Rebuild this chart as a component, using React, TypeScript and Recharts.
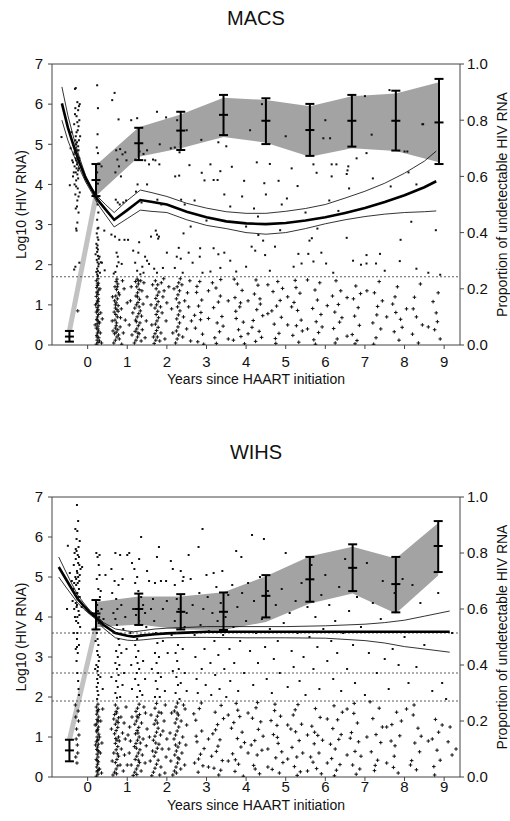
import React from 'react';
import { ComposedChart, XAxis, YAxis, Scatter, Line, Area, ErrorBar, ReferenceLine } from 'recharts';

type Pt = [number, number];

const xTicks = [0, 1, 2, 3, 4, 5, 6, 7, 8, 9];
const leftTicks = [0, 1, 2, 3, 4, 5, 6, 7];
const rightTicks = [0, 0.2, 0.4, 0.6, 0.8, 1.0];

// ---------- MACS ----------
const macsVisits = [-0.46, 0.21, 1.29, 2.35, 3.43, 4.5, 5.61, 6.67, 7.78, 8.87];
const macsPropMean = [0.03, 0.587, 0.718, 0.763, 0.819, 0.798, 0.765, 0.798, 0.798, 0.792];
const macsPropLow = [0.012, 0.53, 0.658, 0.694, 0.747, 0.715, 0.673, 0.706, 0.692, 0.644];
const macsPropHigh = [0.05, 0.644, 0.773, 0.83, 0.89, 0.878, 0.858, 0.89, 0.905, 0.947];
const macsBandLow = [0.53, 0.67, 0.7, 0.74, 0.72, 0.67, 0.7, 0.69, 0.65];
const macsBandHigh = [0.64, 0.775, 0.82, 0.88, 0.872, 0.85, 0.885, 0.895, 0.935];

const macsFitX = [-0.65, -0.5, -0.35, -0.2, -0.05, 0.1, 0.25, 0.45, 0.67, 1.0, 1.33, 1.6, 2.0, 2.5, 3.0, 3.5, 4.0, 4.5, 5.0, 5.5, 6.0, 6.5, 7.0, 7.5, 8.0, 8.5, 8.8];
const macsFit = [6.02, 5.42, 4.95, 4.52, 4.15, 3.88, 3.62, 3.38, 3.12, 3.36, 3.61, 3.57, 3.5, 3.32, 3.18, 3.08, 3.03, 3.01, 3.04, 3.1, 3.18, 3.29, 3.41, 3.56, 3.73, 3.93, 4.08];
const macsFitUpper = [6.43, 5.72, 5.15, 4.65, 4.22, 3.93, 3.7, 3.5, 3.3, 3.6, 3.86, 3.8, 3.7, 3.53, 3.41, 3.32, 3.28, 3.28, 3.33, 3.4, 3.5, 3.66, 3.83, 4.03, 4.28, 4.58, 4.83];
const macsFitLower = [5.6, 5.1, 4.72, 4.38, 4.06, 3.8, 3.52, 3.24, 2.94, 3.15, 3.36, 3.33, 3.3, 3.12, 2.98, 2.9, 2.8, 2.76, 2.8, 2.9, 3.02, 3.12, 3.2, 3.26, 3.3, 3.32, 3.34];
const macsLimits = [1.7];

const macsDetected: Pt[] = [
  [-0.66,5.18],[-0.45,3.98],[-0.43,4.9],[-0.41,5.3],[-0.39,4.6],[-0.37,4.2],[-0.36,5.0],[-0.35,4.75],[-0.34,5.5],[-0.33,4.45],
  [-0.32,6.38],[-0.31,5.9],[-0.31,4.9],[-0.3,4.3],[-0.3,5.2],[-0.29,4.6],[-0.29,3.95],[-0.28,5.7],[-0.28,4.4],[-0.27,5.05],
  [-0.27,4.75],[-0.26,6.05],[-0.26,3.6],[-0.25,4.55],[-0.25,5.35],[-0.24,4.15],[-0.24,5.85],[-0.23,4.85],[-0.23,3.3],[-0.22,5.95],
  [-0.21,4.65],[-0.21,5.6],[-0.2,3.8],[-0.19,5.2],[-0.33,4.0],[-0.31,3.75],[-0.29,2.9],[-0.28,2.85],[-0.27,3.45],[-0.26,3.05],
  [-0.25,3.9],[-0.22,4.4],[-0.32,5.75],[-0.3,6.4],[-0.35,4.3],[-0.37,4.55],[-0.24,4.95],[-0.28,5.3],[-0.31,5.1],[-0.26,4.25],
  [-0.23,5.45],[-0.2,6.0],[-0.34,1.88],[-0.31,1.95],[-0.3,4.65],[-0.27,4.5],[-0.29,5.0],[-0.25,4.7],[-0.33,4.8],[-0.22,5.1],
  [-0.26,5.55],[-0.24,4.35],[-0.29,4.1],[-0.28,4.85],[-0.3,3.4],[-0.23,3.7],[-0.21,2.05],
  [0.24,6.47],[0.26,5.9],[0.25,5.25],[0.23,4.92],[0.26,4.78],[0.27,4.52],[0.24,4.3],[0.26,4.02],[0.22,3.72],[0.25,3.5],
  [0.27,3.3],[0.24,3.12],[0.25,2.9],[0.23,2.78],[0.27,2.62],[0.25,2.48],[0.24,2.32],[0.26,2.22],[0.23,2.12],[0.25,2.06],
  [0.27,1.96],[0.24,1.9],[0.26,1.84],[0.28,2.02],[0.22,2.52],[0.3,2.2],[0.31,1.8],[0.2,2.26],[0.33,2.06],[0.25,2.68],
  [0.26,2.38],[0.24,1.76],[0.22,1.82],[0.43,1.86],[0.36,2.05],[0.42,2.85],[0.28,2.15],[0.26,1.72],[0.23,2.42],[0.27,2.92],
  [0.35,4.45],[0.27,3.6],
  [0.62,6.1],[0.68,6.28],[0.78,5.62],[0.72,4.85],[0.75,4.62],[0.82,4.88],[0.79,4.45],[0.7,4.3],[0.84,4.2],[0.88,4.75],
  [0.71,3.62],[0.76,3.55],[0.81,3.5],[0.69,2.7],[0.73,2.3],[0.76,2.2],[0.78,2.06],[0.74,1.96],[0.7,1.82],[0.8,2.62],
  [0.86,2.02],[0.66,1.78],[0.95,4.8],[0.98,4.6],[0.9,3.55],[0.93,2.62],[0.6,2.75],
  [1.25,5.65],[1.31,4.82],[1.21,4.62],[1.41,4.76],[1.26,4.0],[1.36,3.55],[1.22,3.82],[1.3,2.56],[1.28,2.3],[1.2,2.05],
  [1.38,1.95],[1.25,1.85],[1.33,1.76],[1.15,2.35],[1.02,2.62],[0.97,3.6],[1.45,2.2],[1.41,1.8],[1.1,5.6],[1.5,4.85],
  [1.45,4.6],[1.55,4.5],[1.5,2.1],[1.5,4.0],
  [1.75,2.75],[1.78,2.65],[1.72,2.85],[1.71,4.6],[1.65,4.62],[1.81,4.5],[1.86,3.5],[1.76,3.62],[1.6,2.7],[1.9,1.92],
  [1.75,1.8],[1.55,2.02],[1.75,5.81],[1.98,5.67],[1.82,5.0],[1.8,2.7],[1.68,1.9],[2.0,2.3],
  [2.26,5.6],[2.1,4.9],[2.2,4.92],[2.31,4.22],[2.21,4.2],[2.36,3.62],[2.3,2.42],[2.25,2.2],[2.35,2.15],[2.4,1.8],
  [2.2,1.92],[2.35,5.02],[2.42,2.78],[2.45,3.5],[2.32,4.8],
  [2.57,4.48],[2.87,5.11],[2.88,4.29],[3.18,4.11],[3.28,4.11],[3.35,4.33],[3.64,4.44],[4.27,4.55],[4.6,4.51],[3.95,4.09],
  [4.46,4.03],[4.82,4.09],[5.03,3.65],[5.3,3.96],[5.15,4.4],[5.7,4.5],[5.78,4.29],[6.16,4.5],[6.28,4.5],[6.16,4.2],
  [6.54,4.26],[6.56,4.35],[6.58,4.45],[6.79,4.65],[7.04,4.78],[7.17,5.24],[6.12,5.15],[8.45,5.5],[8.79,2.86],[8.17,3.07],
  [7.9,2.62],[6.54,2.67],[6.33,3.34],[5.66,2.66],[4.86,2.86],[4.31,2.74],[4.14,2.45],[4.23,2.35],[4.43,2.6],[4.48,2.24],
  [4.73,2.45],[2.84,2.41],[2.83,2.2],[3.18,2.41],[3.3,2.26],[3.35,1.92],[5.32,2.27],[5.57,2.27],[5.4,2.03],[5.7,2.08],
  [6.02,2.03],[7.04,2.24],[7.28,2.03],[7.04,2.03],[7.38,2.27],[7.88,2.09],[3.75,1.83],[3.1,1.83],[7.62,6.35],[8.47,5.5],
  [5.95,5.15],[8.0,4.82],[8.07,4.82],[3.3,5.05],[2.7,3.6],[3.0,3.1],[3.6,3.45],[4.0,2.95],[4.2,3.4],[4.5,3.75],
  [3.9,3.7],[3.45,3.75],[2.6,2.95],[3.1,4.5],[2.95,4.1],[4.3,3.2],[5.5,3.3],[4.9,3.5],[5.2,1.95],[5.9,2.3],
  [6.2,1.8],[6.7,2.1],[6.9,2.0],[7.5,1.85],[8.3,1.9],[8.6,1.8],[4.6,1.85],[4.0,1.95],[2.9,1.8],[3.6,2.1],
  [3.45,2.3],[2.55,2.3],[2.65,2.05],[5.6,2.6],[5.8,2.9],[6.1,3.6],[6.6,3.9],[7.2,4.15],[7.65,3.95],[8.1,4.3],
  [8.3,4.0],[3.5,4.95],[4.1,5.35],[2.5,5.35],[4.4,6.0],[7.0,6.2],[6.0,5.6],[5.0,5.2],[8.9,1.75],
];

const macsCensored: Pt[] = [
  [-0.25,0.85],
  [0.22,0.02],[0.26,0.06],[0.24,0.12],[0.28,0.18],[0.23,0.24],[0.25,0.3],[0.27,0.35],[0.22,0.42],[0.26,0.47],[0.24,0.53],
  [0.28,0.58],[0.23,0.64],[0.25,0.7],[0.27,0.76],[0.22,0.82],[0.26,0.88],[0.24,0.93],[0.28,0.98],[0.23,1.04],[0.25,1.1],
  [0.27,1.15],[0.22,1.21],[0.26,1.26],[0.24,1.32],[0.28,1.37],[0.23,1.43],[0.25,1.48],[0.27,1.54],[0.22,1.6],[0.26,1.65],
  [0.24,0.2],[0.26,0.4],[0.24,0.62],[0.25,0.85],[0.26,1.08],[0.24,1.3],[0.25,1.52],[0.3,0.1],[0.32,0.3],[0.3,0.55],
  [0.33,0.8],[0.35,0.05],[0.2,1.0],[0.19,0.5],[0.31,1.4],[0.37,0.65],
  [0.66,0.05],[0.7,0.12],[0.74,0.2],[0.68,0.28],[0.72,0.32],[0.76,0.38],[0.7,0.42],[0.78,0.25],[0.64,0.35],[0.73,0.55],
  [0.69,0.62],[0.75,0.7],[0.71,0.76],[0.67,0.82],[0.74,0.88],[0.7,0.92],[0.77,0.98],[0.72,1.05],[0.68,1.1],[0.75,1.15],
  [0.71,1.22],[0.78,1.3],[0.73,1.38],[0.69,1.45],[0.76,1.52],[0.72,1.58],[0.74,1.64],[0.8,0.15],[0.82,0.45],[0.85,0.9],
  [0.8,1.25],[0.88,1.6],[0.62,0.6],[0.63,1.2],[0.9,0.3],[0.95,0.62],[1.0,1.05],[0.92,1.4],[0.86,0.02],[0.72,0.48],
  [0.77,0.84],[0.7,1.0],[0.75,1.45],[0.83,0.68],
  [1.18,0.05],[1.22,0.12],[1.26,0.2],[1.3,0.28],[1.2,0.34],[1.24,0.4],[1.28,0.48],[1.32,0.55],[1.21,0.62],[1.25,0.7],
  [1.29,0.78],[1.33,0.85],[1.19,0.92],[1.23,1.0],[1.27,1.06],[1.31,1.14],[1.22,1.22],[1.26,1.3],[1.3,1.38],[1.24,1.45],
  [1.28,1.52],[1.21,1.58],[1.25,1.64],[1.35,0.1],[1.38,0.38],[1.36,0.72],[1.4,1.02],[1.37,1.35],[1.34,1.6],[1.12,0.25],
  [1.14,0.8],[1.1,1.45],[1.45,0.18],[1.48,0.6],[1.5,1.2],[1.42,1.55],[1.05,0.5],[1.08,1.1],[1.27,0.3],[1.23,0.58],
  [1.3,0.95],[1.26,1.2],[1.29,1.6],
  [1.68,0.04],[1.72,0.12],[1.76,0.2],[1.7,0.28],[1.74,0.36],[1.78,0.44],[1.71,0.52],[1.75,0.6],[1.79,0.68],[1.73,0.76],
  [1.77,0.84],[1.7,0.92],[1.74,1.0],[1.78,1.08],[1.72,1.16],[1.76,1.24],[1.8,1.32],[1.73,1.4],[1.77,1.5],[1.71,1.6],
  [1.85,0.3],[1.88,0.8],[1.9,1.2],[1.86,1.55],[1.62,0.5],[1.6,1.0],[1.64,1.5],[1.95,0.15],[1.98,0.6],[2.0,1.05],
  [1.93,1.35],[1.82,0.1],[1.84,0.95],[1.66,0.2],[2.05,1.45],[1.92,1.65],
  [2.22,0.05],[2.26,0.15],[2.3,0.25],[2.24,0.35],[2.28,0.45],[2.32,0.55],[2.25,0.65],[2.29,0.75],[2.33,0.85],[2.27,0.95],
  [2.31,1.05],[2.24,1.15],[2.28,1.25],[2.32,1.35],[2.26,1.45],[2.3,1.55],[2.34,1.65],[2.15,0.3],[2.12,0.9],[2.18,1.4],
  [2.4,0.2],[2.42,0.7],[2.45,1.1],[2.38,1.5],[2.5,0.4],[2.55,0.95],[2.52,1.3],[2.6,0.1],[2.62,0.6],[2.58,1.6],
  [2.72,0.42],[2.75,1.31],[2.78,0.08],[2.8,0.97],[2.83,1.58],[2.85,0.63],[2.88,1.12],[2.9,0.27],[2.76,1.46],[2.86,0.81],
  [2.93,0.02],[2.7,0.74],
  [3.18,0.93],[3.21,0.18],[3.24,1.42],[3.27,0.55],[3.3,1.07],[3.33,0.33],[3.36,1.63],[3.39,0.71],[3.25,0.04],[3.35,1.22],
  [3.42,0.47],[3.15,1.55],
  [3.68,0.12],[3.72,1.18],[3.75,0.66],[3.78,1.52],[3.81,0.38],[3.84,0.95],[3.87,0.21],[3.9,1.36],[3.74,0.84],[3.93,0.57],
  [3.7,1.64],[3.86,1.05],[3.96,0.03],
  [4.18,0.61],[4.21,1.27],[4.24,0.09],[4.27,0.88],[4.3,1.49],[4.33,0.34],[4.36,1.02],[4.39,0.19],[4.25,1.62],[4.42,0.73],
  [4.15,0.44],[4.35,1.15],
  [4.68,1.33],[4.71,0.52],[4.74,0.16],[4.77,0.97],[4.8,1.58],[4.83,0.29],[4.86,1.11],[4.89,0.69],[4.75,0.04],[4.92,1.41],
  [4.65,0.85],
  [5.18,0.24],[5.21,1.06],[5.24,1.61],[5.27,0.48],[5.3,0.86],[5.33,0.07],[5.36,1.29],[5.39,0.62],[5.26,1.43],[5.42,0.35],
  [5.15,0.95],
  [5.68,0.91],[5.71,0.13],[5.74,1.37],[5.77,0.58],[5.8,1.12],[5.83,0.31],[5.86,1.55],[5.89,0.76],[5.75,0.02],[5.92,0.45],
  [6.18,1.22],[6.21,0.41],[6.24,0.82],[6.27,1.6],[6.3,0.15],[6.33,1.01],[6.36,0.57],[6.39,1.35],[6.25,0.05],[6.42,0.68],
  [6.68,0.26],[6.71,1.15],[6.74,0.72],[6.77,1.47],[6.8,0.11],[6.83,0.93],[6.86,0.49],[6.89,1.28],[6.75,0.03],
  [7.2,0.55],[7.24,1.3],[7.28,0.18],[7.32,0.96],[7.36,1.58],[7.4,0.4],[7.3,0.75],[7.44,1.1],[7.22,0.02],
  [7.7,1.02],[7.74,0.33],[7.78,0.81],[7.82,1.45],[7.86,0.12],[7.9,0.64],[7.76,1.2],[7.94,0.44],
  [8.2,0.27],[8.25,1.19],[8.3,0.7],[8.35,0.05],[8.4,1.52],[8.45,0.5],[8.22,0.9],
  [8.72,1.08],[8.76,0.38],[8.8,0.8],[8.85,1.3],[8.9,0.15],[8.83,0.58],
  [3.05,0.66],[3.55,1.1],[4.05,0.28],[4.55,0.78],[5.05,1.2],[5.55,0.4],[6.05,0.98],[6.55,0.22],[7.05,1.35],[7.55,0.7],
  [8.05,0.9],[8.6,0.45],[3.55,0.15],[4.55,1.5],[5.55,1.62],[6.55,1.18],[3.05,1.35],[4.05,1.1],[5.05,0.5],
];

// ---------- WIHS ----------
const wihsVisits = [-0.46, 0.21, 1.29, 2.35, 3.43, 4.5, 5.61, 6.69, 7.78, 8.85];
const wihsPropMean = [0.095, 0.584, 0.6, 0.59, 0.59, 0.647, 0.706, 0.747, 0.689, 0.825];
const wihsPropLow = [0.056, 0.527, 0.543, 0.527, 0.525, 0.57, 0.626, 0.664, 0.588, 0.732];
const wihsPropHigh = [0.133, 0.632, 0.655, 0.653, 0.659, 0.721, 0.786, 0.831, 0.786, 0.914];
const wihsBandLow = [0.535, 0.545, 0.527, 0.525, 0.554, 0.62, 0.655, 0.584, 0.72];
const wihsBandHigh = [0.625, 0.645, 0.645, 0.66, 0.717, 0.788, 0.822, 0.78, 0.907];

const wihsFitX = [-0.73, -0.55, -0.4, -0.25, -0.1, 0.05, 0.2, 0.4, 0.7, 1.0, 1.16, 1.4, 1.7, 2.0, 2.5, 3.0, 4.0, 5.0, 6.0, 7.0, 7.5, 8.0, 8.5, 9.14];
const wihsFit = [5.25, 4.95, 4.7, 4.45, 4.28, 4.12, 4.0, 3.8, 3.6, 3.53, 3.51, 3.54, 3.57, 3.59, 3.61, 3.63, 3.63, 3.63, 3.63, 3.63, 3.63, 3.63, 3.63, 3.63];
const wihsFitUpper = [5.5, 5.13, 4.83, 4.55, 4.35, 4.17, 4.05, 3.86, 3.7, 3.65, 3.63, 3.66, 3.7, 3.72, 3.74, 3.76, 3.76, 3.76, 3.78, 3.82, 3.86, 3.92, 4.02, 4.15];
const wihsFitLower = [5.0, 4.75, 4.55, 4.35, 4.2, 4.07, 3.95, 3.72, 3.48, 3.42, 3.41, 3.43, 3.46, 3.48, 3.49, 3.49, 3.48, 3.48, 3.47, 3.41, 3.35, 3.26, 3.2, 3.12];
const wihsLimits = [3.6, 2.6, 1.9];

const wihsDetected: Pt[] = [
  [-0.5,5.78],[-0.45,5.1],[-0.4,4.9],[-0.38,4.4],[-0.36,4.7],[-0.35,5.3],[-0.34,4.2],[-0.33,5.6],[-0.32,4.55],[-0.31,6.2],
  [-0.31,5.0],[-0.3,4.35],[-0.3,5.45],[-0.29,4.8],[-0.29,3.9],[-0.28,5.65],[-0.28,4.25],[-0.27,6.8],[-0.27,5.15],[-0.26,4.6],
  [-0.26,3.6],[-0.25,5.55],[-0.25,4.45],[-0.24,6.4],[-0.24,5.0],[-0.23,4.15],[-0.23,5.75],[-0.22,4.7],[-0.22,3.3],[-0.21,5.3],
  [-0.21,4.05],[-0.2,5.9],[-0.2,4.5],[-0.19,3.75],[-0.18,5.2],[-0.3,3.2],[-0.28,2.9],[-0.27,3.45],[-0.26,2.6],[-0.25,3.1],
  [-0.24,2.4],[-0.23,2.2],[-0.22,2.05],[-0.29,4.95],[-0.27,4.3],[-0.25,4.85],[-0.23,4.5],[-0.24,5.35],[-0.26,5.1],[-0.28,4.6],
  [-0.3,5.7],[-0.21,4.9],[-0.32,4.0],[-0.35,3.6],[-0.26,4.0],[-0.24,3.85],[-0.22,5.5],[-0.2,5.05],[-0.28,5.95],[-0.26,6.15],
  [-0.34,4.85],[-0.52,4.2],[-0.15,4.25],[-0.14,5.25],[-0.27,3.25],
  [0.22,5.6],[0.25,5.5],[0.28,5.3],[0.3,5.05],[0.23,4.95],[0.27,4.7],[0.31,4.5],[0.24,4.3],[0.26,4.15],[0.28,3.85],
  [0.23,3.6],[0.25,3.45],[0.27,3.3],[0.24,3.15],[0.26,3.05],[0.28,2.9],[0.22,2.8],[0.25,2.65],[0.27,2.55],[0.24,2.45],
  [0.26,2.35],[0.23,2.25],[0.25,2.15],[0.27,2.05],[0.24,1.95],[0.3,3.0],[0.32,2.5],[0.2,3.4],[0.35,4.2],[0.33,4.65],
  [0.4,3.95],[0.38,2.2],[0.19,2.7],[0.29,4.0],[0.26,2.75],[0.3,5.55],[0.45,5.05],
  [0.6,5.2],[0.62,4.6],[0.68,4.9],[0.7,5.6],[0.72,4.45],[0.75,4.2],[0.78,4.8],[0.82,5.55],[0.85,4.3],[0.88,4.95],
  [0.7,3.95],[0.74,3.8],[0.78,3.45],[0.8,3.3],[0.72,3.15],[0.76,3.0],[0.7,2.85],[0.74,2.7],[0.78,2.55],[0.72,2.4],
  [0.76,2.25],[0.7,2.1],[0.74,1.98],[0.8,2.8],[0.68,3.6],[0.85,3.1],[0.88,2.3],[0.9,3.7],[0.95,4.0],[0.65,4.1],
  [0.98,3.2],[0.92,2.6],[0.6,2.5],[0.82,2.0],
  [1.0,5.55],[1.05,5.6],[1.12,5.35],[1.18,5.2],[1.25,5.0],[1.3,5.45],[1.2,4.85],[1.28,4.65],[1.35,4.5],[1.4,4.3],
  [1.15,4.2],[1.22,4.05],[1.3,3.9],[1.25,3.45],[1.2,3.3],[1.28,3.15],[1.22,3.0],[1.26,2.85],[1.3,2.7],[1.24,2.6],
  [1.2,2.45],[1.28,2.3],[1.32,2.15],[1.25,2.0],[1.35,3.55],[1.4,2.9],[1.45,2.45],[1.1,2.8],[1.08,3.6],[1.48,3.75],
  [1.5,5.15],[1.55,4.9],[1.35,6.0],[1.45,4.1],[1.12,2.2],[1.38,2.05],
  [1.6,4.2],[1.65,4.45],[1.7,4.85],[1.75,5.5],[1.8,5.75],[1.85,4.9],[1.68,3.9],[1.72,3.6],[1.76,3.35],[1.7,3.1],
  [1.74,2.85],[1.78,2.6],[1.72,2.4],[1.76,2.2],[1.7,2.0],[1.8,3.0],[1.85,2.5],[1.9,3.4],[1.95,2.15],[1.9,4.2],
  [2.0,4.4],[1.62,2.7],[1.82,2.0],[2.02,3.1],[1.98,4.9],
  [2.1,5.4],[2.15,5.2],[2.2,4.8],[2.25,4.45],[2.3,4.2],[2.35,5.15],[2.4,4.9],[2.2,3.9],[2.25,3.6],[2.28,3.3],
  [2.22,3.1],[2.26,2.9],[2.3,2.7],[2.24,2.5],[2.28,2.3],[2.22,2.1],[2.32,1.95],[2.4,3.2],[2.45,2.6],[2.5,2.15],
  [2.15,2.65],[2.12,3.55],[2.5,4.1],[2.45,3.75],[2.42,5.0],[2.35,2.35],
  [2.55,5.55],[2.6,4.95],[2.65,4.3],[2.7,3.55],[2.72,3.0],[2.75,2.45],[2.78,2.1],[2.8,5.75],[2.82,4.6],[2.85,3.8],
  [2.88,2.7],[2.9,6.2],[2.92,4.2],[2.95,3.2],[2.98,2.3],[3.0,5.05],[3.03,4.5],[3.06,3.65],[3.1,2.85],[3.12,2.05],
  [3.15,4.1],[3.18,5.1],[3.2,3.4],[3.22,2.55],[3.25,4.75],[3.28,3.9],[3.3,3.05],[3.33,2.2],[3.36,4.35],[3.4,5.15],
  [3.42,3.55],[3.45,2.7],[3.48,4.0],[3.5,2.0],[3.55,4.55],[3.58,3.2],[3.6,2.4],[3.65,4.8],[3.68,3.75],[3.7,2.85],
  [3.75,5.65],[3.78,4.25],[3.8,2.15],[3.85,3.4],[3.88,5.5],[3.9,4.6],[3.95,2.6],[4.0,3.9],[4.05,4.85],[4.1,3.15],
  [4.15,6.05],[4.18,2.3],[4.2,4.4],[4.25,3.6],[4.3,2.85],[4.35,5.0],[4.4,3.95],[4.45,5.95],[4.48,3.25],[4.52,2.45],
  [4.55,4.65],[4.6,3.7],[4.65,2.1],[4.7,2.95],[4.75,4.3],[4.8,3.4],[4.85,2.6],[4.9,4.7],[4.95,3.85],[5.0,5.6],
  [5.05,2.25],[5.1,4.1],[5.15,3.15],[5.2,2.75],[5.25,4.4],[5.3,3.6],[5.35,2.4],[5.4,4.85],[5.45,3.0],[5.5,2.05],
  [5.55,4.25],[5.6,3.5],[5.65,5.3],[5.7,2.7],[5.75,4.0],[5.8,3.25],[5.85,2.2],[5.9,4.55],[5.95,3.7],[6.0,5.05],
  [6.05,2.9],[6.1,4.3],[6.15,3.4],[6.2,2.45],[6.25,3.9],[6.3,3.1],[6.35,4.75],[6.4,2.15],[6.45,3.6],[6.5,5.45],
  [6.55,2.7],[6.6,4.15],[6.7,3.3],[6.75,2.35],[6.8,4.5],[6.9,3.75],[7.0,2.05],[7.05,5.35],[7.1,3.1],[7.2,4.35],
  [7.3,2.6],[7.4,3.95],[7.45,4.9],[7.5,2.95],[7.6,2.2],[7.7,3.2],[7.75,4.6],[7.85,2.8],[7.95,4.95],[8.0,3.5],
  [8.1,2.35],[8.2,4.8],[8.3,2.75],[8.4,4.35],[8.5,3.3],[8.7,2.15],[8.85,4.6],[8.95,2.35],[9.05,1.95],[9.2,3.6],
];

const wihsCensored: Pt[] = [
  [-0.3,1.5],[-0.28,1.2],[-0.26,0.8],[-0.3,0.5],[-0.27,0.35],[-0.24,1.65],[-0.22,1.05],[-0.31,1.8],[-0.25,0.6],[-0.29,0.95],
  [-0.23,1.4],
  [0.22,0.02],[0.26,0.07],[0.24,0.13],[0.28,0.19],[0.23,0.25],[0.25,0.32],[0.27,0.38],[0.22,0.44],[0.26,0.5],[0.24,0.57],
  [0.28,0.63],[0.23,0.69],[0.25,0.75],[0.27,0.82],[0.22,0.88],[0.26,0.94],[0.24,1.0],[0.28,1.07],[0.23,1.13],[0.25,1.19],
  [0.27,1.25],[0.22,1.32],[0.26,1.38],[0.24,1.44],[0.28,1.5],[0.23,1.57],[0.25,1.63],[0.27,1.69],[0.22,1.75],[0.26,1.82],
  [0.25,0.16],[0.24,0.41],[0.26,0.66],[0.25,0.91],[0.24,1.16],[0.26,1.41],[0.25,1.66],[0.3,0.2],[0.32,0.6],[0.3,1.0],
  [0.33,1.4],[0.35,0.1],[0.2,0.8],[0.19,1.3],[0.36,0.85],[0.38,1.7],
  [0.64,0.05],[0.68,0.12],[0.72,0.2],[0.76,0.28],[0.7,0.36],[0.74,0.44],[0.78,0.52],[0.66,0.6],[0.72,0.68],[0.76,0.76],
  [0.7,0.84],[0.74,0.92],[0.78,1.0],[0.68,1.08],[0.72,1.16],[0.76,1.24],[0.7,1.32],[0.74,1.4],[0.78,1.48],[0.68,1.56],
  [0.72,1.64],[0.76,1.72],[0.7,1.8],[0.82,0.3],[0.85,0.7],[0.88,1.1],[0.84,1.5],[0.62,0.4],[0.6,1.2],[0.9,0.15],
  [0.93,0.55],[0.95,0.95],[0.92,1.35],[0.97,1.75],[0.73,0.08],[0.75,0.58],[0.71,0.96],[0.77,1.36],[0.73,1.6],[0.8,0.9],
  [0.66,1.45],[1.0,0.3],[1.02,1.05],
  [1.15,0.04],[1.19,0.12],[1.23,0.2],[1.27,0.28],[1.31,0.36],[1.2,0.44],[1.24,0.52],[1.28,0.6],[1.32,0.68],[1.18,0.76],
  [1.22,0.84],[1.26,0.92],[1.3,1.0],[1.21,1.08],[1.25,1.16],[1.29,1.24],[1.19,1.32],[1.23,1.4],[1.27,1.48],[1.31,1.56],
  [1.22,1.64],[1.26,1.72],[1.3,1.82],[1.35,0.15],[1.38,0.55],[1.4,0.95],[1.36,1.35],[1.42,1.75],[1.1,0.3],[1.08,0.9],
  [1.12,1.5],[1.45,0.35],[1.48,0.78],[1.5,1.2],[1.46,1.6],[1.05,0.6],[1.06,1.25],[1.24,0.06],[1.28,0.42],[1.23,0.72],
  [1.27,1.1],[1.25,1.52],[1.33,0.85],
  [1.62,0.03],[1.66,0.12],[1.7,0.22],[1.74,0.32],[1.78,0.42],[1.68,0.52],[1.72,0.62],[1.76,0.72],[1.8,0.82],[1.66,0.92],
  [1.7,1.02],[1.74,1.12],[1.78,1.22],[1.68,1.32],[1.72,1.42],[1.76,1.52],[1.8,1.62],[1.7,1.72],[1.74,1.84],[1.85,0.25],
  [1.88,0.7],[1.9,1.15],[1.86,1.6],[1.58,0.4],[1.56,1.0],[1.6,1.55],[1.95,0.1],[1.98,0.5],[2.0,0.95],[1.93,1.4],
  [1.96,1.8],[1.82,0.05],[1.84,1.05],[1.64,0.65],[1.72,0.85],[1.76,1.35],
  [2.15,0.05],[2.19,0.15],[2.23,0.25],[2.27,0.35],[2.31,0.45],[2.2,0.55],[2.24,0.65],[2.28,0.75],[2.32,0.85],[2.18,0.95],
  [2.22,1.05],[2.26,1.15],[2.3,1.25],[2.21,1.35],[2.25,1.45],[2.29,1.55],[2.19,1.65],[2.23,1.75],[2.27,1.85],[2.35,0.2],
  [2.38,0.6],[2.4,1.0],[2.36,1.4],[2.42,1.8],[2.1,0.4],[2.08,1.1],[2.12,1.6],[2.45,0.3],[2.48,0.8],[2.5,1.3],
  [2.46,1.7],[2.05,0.7],[2.24,0.1],[2.28,0.48],[2.22,0.8],[2.26,1.6],
  [2.7,0.35],[2.73,1.42],[2.76,0.88],[2.79,0.12],[2.82,1.71],[2.85,0.57],[2.88,1.15],[2.91,0.28],[2.74,1.02],[2.87,1.85],
  [2.94,0.71],[2.68,1.58],[2.8,0.45],
  [3.16,1.08],[3.19,0.22],[3.22,1.62],[3.25,0.64],[3.28,1.31],[3.31,0.05],[3.34,0.93],[3.37,1.79],[3.4,0.41],[3.23,1.18],
  [3.36,0.17],[3.43,1.46],[3.29,0.77],[3.13,0.52],
  [3.66,0.58],[3.69,1.36],[3.72,0.14],[3.75,1.84],[3.78,0.96],[3.81,0.32],[3.84,1.51],[3.87,0.75],[3.9,1.12],[3.73,0.43],
  [3.93,0.02],[3.79,1.67],[3.96,0.86],[3.63,1.22],
  [4.16,1.47],[4.19,0.29],[4.22,0.91],[4.25,1.73],[4.28,0.55],[4.31,1.19],[4.34,0.08],[4.37,1.38],[4.4,0.67],[4.23,0.2],
  [4.43,1.02],[4.29,1.86],[4.13,0.8],
  [4.66,0.19],[4.69,1.06],[4.72,1.66],[4.75,0.48],[4.78,1.29],[4.81,0.84],[4.84,0.1],[4.87,1.52],[4.9,0.63],[4.73,1.82],
  [4.93,0.36],[4.79,0.99],[4.63,1.41],
  [5.16,0.74],[5.19,1.55],[5.22,0.26],[5.25,1.13],[5.28,0.5],[5.31,1.81],[5.34,0.91],[5.37,0.13],[5.4,1.32],[5.24,1.68],
  [5.43,0.6],[5.29,0.04],[5.13,1.2],
  [5.66,1.27],[5.69,0.37],[5.72,0.83],[5.75,1.71],[5.78,0.21],[5.81,1.04],[5.84,0.6],[5.87,1.49],[5.9,0.08],[5.73,1.12],
  [5.93,0.92],[5.63,0.5],
  [6.16,0.46],[6.19,1.21],[6.22,1.78],[6.25,0.7],[6.28,0.17],[6.31,1.43],[6.34,0.94],[6.37,0.31],[6.4,1.06],[6.23,0.03],
  [6.43,1.62],[6.13,0.82],
  [6.66,1.11],[6.69,0.3],[6.72,1.59],[6.75,0.64],[6.78,0.07],[6.81,1.35],[6.84,0.88],[6.87,0.2],[6.73,1.84],[6.9,0.52],
  [6.63,0.97],
  [7.16,0.63],[7.2,1.46],[7.24,0.16],[7.28,1.06],[7.32,0.42],[7.36,1.72],[7.4,0.86],[7.26,0.29],[7.44,1.25],[7.13,1.88],
  [7.68,1.31],[7.72,0.24],[7.76,0.78],[7.8,1.62],[7.84,0.1],[7.88,1.03],[7.74,0.52],[7.92,1.4],[7.66,0.9],
  [8.18,0.41],[8.22,1.55],[8.26,0.85],[8.3,0.18],[8.34,1.22],[8.38,0.63],[8.24,1.8],[8.42,1.02],[8.15,0.3],
  [8.7,0.95],[8.74,0.26],[8.78,1.44],[8.82,0.67],[8.86,1.12],[8.9,0.42],[8.76,0.05],[8.95,1.3],
  [9.1,0.88],[9.2,0.55],[9.15,1.25],[9.3,0.7],
  [3.05,0.95],[3.55,0.4],[4.05,1.6],[4.55,0.7],[5.05,1.3],[5.55,0.15],[6.05,1.45],[6.55,0.55],[7.05,1.0],[7.55,0.35],
  [8.05,1.7],[8.6,0.9],[3.55,1.55],[4.55,0.25],[5.55,1.05],[6.55,1.7],[7.55,1.25],[3.05,0.25],[4.05,0.6],[5.05,0.45],
  [6.05,0.35],
];

const FONT = '"Liberation Sans", Arial, sans-serif';
const AXIS = '#444';

const toXY = (pts: Pt[]) => pts.map(([x, y]) => ({ x, y }));
const fitData = (xs: number[], ys: number[]) => xs.map((x, i) => ({ x, y: ys[i] }));

const Dot = (p: any) => <rect x={p.cx - 1} y={p.cy - 1} width={2} height={2} fill="#111" />;
const Cross = (p: any) => (
  <path d={`M${p.cx - 1.8},${p.cy}h3.6M${p.cx},${p.cy - 1.8}v3.6`} stroke="#111" strokeWidth={1} />
);
const MeanTick = (p: any) => (
  <line x1={p.cx - 4.5} x2={p.cx + 4.5} y1={p.cy} y2={p.cy} stroke="#000" strokeWidth={2} />
);

interface PanelProps {
  title: string;
  height: number;
  marginTop: number;
  marginBottom: number;
  tickGap: number;
  titleY: number;
  xLabelY: number;
  visits: number[];
  mean: number[];
  low: number[];
  high: number[];
  bandLow: number[];
  bandHigh: number[];
  fitX: number[];
  fit: number[];
  fitUpper: number[];
  fitLower: number[];
  limits: number[];
  detected: Pt[];
  censored: Pt[];
}

const tickStyle = { fill: '#111', fontSize: 15, fontFamily: FONT };

const Panel: React.FC<PanelProps> = (p) => {
  const band = p.visits.slice(1).map((x, i) => ({ x, band: [p.bandLow[i], p.bandHigh[i]] }));
  const bars = p.visits.map((x, i) => ({ x, y: p.mean[i], err: [p.mean[i] - p.low[i], p.high[i] - p.mean[i]] }));
  // light grey link from the pre-HAART bar to the start of the band
  const bridge = [
    { x: p.visits[0], y: p.high[0] },
    { x: p.visits[1], y: p.bandLow[0] },
  ];
  const plotTop = p.marginTop;
  const plotBottom = p.height - p.marginBottom - 30;
  const midY = (plotTop + plotBottom) / 2;

  return (
    <div style={{ position: 'relative', width: 510, height: p.height }}>
      <ComposedChart
        width={510}
        height={p.height}
        margin={{ top: p.marginTop, right: 8, left: 12, bottom: p.marginBottom }}
      >
        <XAxis
          dataKey="x"
          type="number"
          domain={[-0.9, 9.4]}
          ticks={xTicks}
          allowDataOverflow
          height={30}
          tickSize={4}
          tickMargin={p.tickGap}
          stroke={AXIS}
          tick={tickStyle}
        />
        <YAxis
          yAxisId="left"
          dataKey="y"
          type="number"
          domain={[0, 7]}
          ticks={leftTicks}
          allowDataOverflow
          width={40}
          tickSize={4}
          tickMargin={5}
          stroke={AXIS}
          tick={tickStyle}
        />
        <YAxis
          yAxisId="right"
          orientation="right"
          dataKey="y"
          type="number"
          domain={[0, 1]}
          ticks={rightTicks}
          allowDataOverflow
          width={42}
          tickSize={4}
          tickMargin={3}
          stroke={AXIS}
          tickFormatter={(v: number) => v.toFixed(1)}
          tick={tickStyle}
        />
        <ReferenceLine yAxisId="left" y={7} stroke={AXIS} strokeWidth={1} />
        <Area
          yAxisId="right"
          data={band}
          dataKey="band"
          type="linear"
          fill="#a3a3a3"
          fillOpacity={1}
          stroke="none"
          isAnimationActive={false}
        />
        <Line
          yAxisId="right"
          data={bridge}
          dataKey="y"
          type="linear"
          stroke="#c2c2c2"
          strokeWidth={5}
          dot={false}
          isAnimationActive={false}
        />
        {p.limits.map((v) => (
          <ReferenceLine key={v} yAxisId="left" y={v} stroke="#333" strokeDasharray="2 2" strokeWidth={0.8} />
        ))}
        <Scatter yAxisId="left" data={toXY(p.censored)} dataKey="y" shape={Cross} isAnimationActive={false} />
        <Scatter yAxisId="left" data={toXY(p.detected)} dataKey="y" shape={Dot} isAnimationActive={false} />
        <Line yAxisId="left" data={fitData(p.fitX, p.fitUpper)} dataKey="y" type="linear" stroke="#000" strokeWidth={0.8} dot={false} isAnimationActive={false} />
        <Line yAxisId="left" data={fitData(p.fitX, p.fitLower)} dataKey="y" type="linear" stroke="#000" strokeWidth={0.8} dot={false} isAnimationActive={false} />
        <Line yAxisId="left" data={fitData(p.fitX, p.fit)} dataKey="y" type="linear" stroke="#000" strokeWidth={2.6} dot={false} isAnimationActive={false} />
        <Scatter yAxisId="right" data={bars} dataKey="y" shape={MeanTick} isAnimationActive={false}>
          <ErrorBar dataKey="err" direction="y" width={4.5} strokeWidth={2} stroke="#000" isAnimationActive={false} />
        </Scatter>
      </ComposedChart>
      <svg
        width={510}
        height={p.height}
        style={{ position: 'absolute', left: 0, top: 0, pointerEvents: 'none' }}
        fontFamily={FONT}
      >
        <text x={256} y={p.titleY} textAnchor="middle" fontSize={20} fill="#111">{p.title}</text>
        <text x={256} y={p.xLabelY} textAnchor="middle" fontSize={14} fill="#111">Years since HAART initiation</text>
        <text x={21} y={midY} transform={`rotate(-90 21 ${midY})`} textAnchor="middle" dominantBaseline="central" fontSize={14} fill="#111">
          Log10 (HIV RNA)
        </text>
        <text x={502} y={midY} transform={`rotate(-90 502 ${midY})`} textAnchor="middle" dominantBaseline="central" fontSize={14} fill="#111">
          Proportion of undetectable HIV RNA
        </text>
      </svg>
    </div>
  );
};

export default function App() {
  return (
    <div style={{ position: 'absolute', left: 0, top: 0, width: 510, height: 821, background: '#fff' }}>
      <Panel
        title="MACS"
        height={400}
        marginTop={64}
        marginBottom={25}
        tickGap={7}
        titleY={25}
        xLabelY={384}
        visits={macsVisits}
        mean={macsPropMean}
        low={macsPropLow}
        high={macsPropHigh}
        bandLow={macsBandLow}
        bandHigh={macsBandHigh}
        fitX={macsFitX}
        fit={macsFit}
        fitUpper={macsFitUpper}
        fitLower={macsFitLower}
        limits={macsLimits}
        detected={macsDetected}
        censored={macsCensored}
      />
      <Panel
        title="WIHS"
        height={421}
        marginTop={97}
        marginBottom={14}
        tickGap={0}
        titleY={59}
        xLabelY={410}
        visits={wihsVisits}
        mean={wihsPropMean}
        low={wihsPropLow}
        high={wihsPropHigh}
        bandLow={wihsBandLow}
        bandHigh={wihsBandHigh}
        fitX={wihsFitX}
        fit={wihsFit}
        fitUpper={wihsFitUpper}
        fitLower={wihsFitLower}
        limits={wihsLimits}
        detected={wihsDetected}
        censored={wihsCensored}
      />
    </div>
  );
}
